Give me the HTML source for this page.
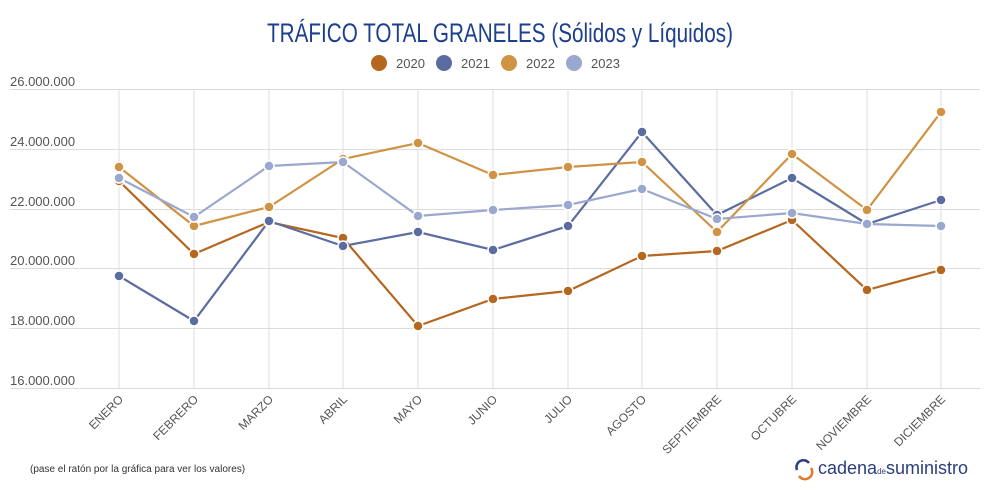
<!DOCTYPE html>
<html><head><meta charset="utf-8"><style>
html,body{margin:0;padding:0;background:#fff;width:1000px;height:500px;overflow:hidden}
text{font-family:"Liberation Sans",sans-serif}
</style></head><body>
<svg width="1000" height="500" viewBox="0 0 1000 500" xmlns="http://www.w3.org/2000/svg">
<text x="500" y="42" text-anchor="middle" font-size="27" font-weight="500" fill="#1d3f8f" style="font-family:'Liberation Sans Narrow','Liberation Sans',sans-serif" textLength="466" lengthAdjust="spacingAndGlyphs">TRÁFICO TOTAL GRANELES (Sólidos y Líquidos)</text>
<g font-size="13" fill="#555">
<circle cx="379" cy="63" r="8" fill="#b5661f"/><text x="396" y="68">2020</text>
<circle cx="444" cy="63" r="8" fill="#5b6ca0"/><text x="461" y="68">2021</text>
<circle cx="509" cy="63" r="8" fill="#d09243"/><text x="526" y="68">2022</text>
<circle cx="574" cy="63" r="8" fill="#9aa8cf"/><text x="591" y="68">2023</text>
</g>
<g stroke="#dcdcdc" stroke-width="1">
<line x1="10" x2="980" y1="89.5" y2="89.5"/><line x1="10" x2="980" y1="149.5" y2="149.5"/>
<line x1="10" x2="980" y1="209.5" y2="209.5"/><line x1="10" x2="980" y1="268.5" y2="268.5"/>
<line x1="10" x2="980" y1="328.5" y2="328.5"/><line x1="10" x2="980" y1="388.5" y2="388.5"/>
<line x1="119" x2="119" y1="89" y2="389"/><line x1="194" x2="194" y1="89" y2="389"/>
<line x1="269" x2="269" y1="89" y2="389"/><line x1="343" x2="343" y1="89" y2="389"/>
<line x1="418" x2="418" y1="89" y2="389"/><line x1="493" x2="493" y1="89" y2="389"/>
<line x1="568" x2="568" y1="89" y2="389"/><line x1="642" x2="642" y1="89" y2="389"/>
<line x1="717" x2="717" y1="89" y2="389"/><line x1="792" x2="792" y1="89" y2="389"/>
<line x1="867" x2="867" y1="89" y2="389"/><line x1="941" x2="941" y1="89" y2="389"/>
</g>
<g font-size="13" fill="#555">
<text x="10" y="86">26.000.000</text><text x="10" y="146">24.000.000</text>
<text x="10" y="206">22.000.000</text><text x="10" y="265">20.000.000</text>
<text x="10" y="325">18.000.000</text><text x="10" y="385">16.000.000</text>
</g>
<g font-size="12" fill="#555" text-anchor="end">
<text transform="translate(124,400) rotate(-45)">ENERO</text>
<text transform="translate(199,400) rotate(-45)">FEBRERO</text>
<text transform="translate(274,400) rotate(-45)">MARZO</text>
<text transform="translate(348,400) rotate(-45)">ABRIL</text>
<text transform="translate(423,400) rotate(-45)">MAYO</text>
<text transform="translate(498,400) rotate(-45)">JUNIO</text>
<text transform="translate(573,400) rotate(-45)">JULIO</text>
<text transform="translate(647,400) rotate(-45)">AGOSTO</text>
<text transform="translate(722,400) rotate(-45)">SEPTIEMBRE</text>
<text transform="translate(797,400) rotate(-45)">OCTUBRE</text>
<text transform="translate(872,400) rotate(-45)">NOVIEMBRE</text>
<text transform="translate(946,400) rotate(-45)">DICIEMBRE</text>
</g>
<g fill="none" stroke-width="2.2">
<polyline stroke="#b5661f" points="119,181 194,254 269,222 343,238 418,326 493,299 568,291 642,256 717,251 792,220 867,290 941,270"/>
<polyline stroke="#5b6ca0" points="119,276 194,321 269,221 343,246 418,232 493,250 568,226 642,132 717,215 792,178 867,224 941,200"/>
<polyline stroke="#d09243" points="119,167 194,226 269,207 343,159 418,143 493,175 568,167 642,162 717,232 792,154 867,210 941,112"/>
<polyline stroke="#9aa8cf" points="119,178 194,217 269,166 343,162 418,216 493,210 568,205 642,189 717,219 792,213 867,224 941,226"/>
</g>
<g stroke="#fff" stroke-width="1.5">
<g fill="#b5661f"><circle cx="119" cy="181" r="5"/><circle cx="194" cy="254" r="5"/><circle cx="269" cy="222" r="5"/><circle cx="343" cy="238" r="5"/><circle cx="418" cy="326" r="5"/><circle cx="493" cy="299" r="5"/><circle cx="568" cy="291" r="5"/><circle cx="642" cy="256" r="5"/><circle cx="717" cy="251" r="5"/><circle cx="792" cy="220" r="5"/><circle cx="867" cy="290" r="5"/><circle cx="941" cy="270" r="5"/></g>
<g fill="#5b6ca0"><circle cx="119" cy="276" r="5"/><circle cx="194" cy="321" r="5"/><circle cx="269" cy="221" r="5"/><circle cx="343" cy="246" r="5"/><circle cx="418" cy="232" r="5"/><circle cx="493" cy="250" r="5"/><circle cx="568" cy="226" r="5"/><circle cx="642" cy="132" r="5"/><circle cx="717" cy="215" r="5"/><circle cx="792" cy="178" r="5"/><circle cx="867" cy="224" r="5"/><circle cx="941" cy="200" r="5"/></g>
<g fill="#d09243"><circle cx="119" cy="167" r="5"/><circle cx="194" cy="226" r="5"/><circle cx="269" cy="207" r="5"/><circle cx="343" cy="159" r="5"/><circle cx="418" cy="143" r="5"/><circle cx="493" cy="175" r="5"/><circle cx="568" cy="167" r="5"/><circle cx="642" cy="162" r="5"/><circle cx="717" cy="232" r="5"/><circle cx="792" cy="154" r="5"/><circle cx="867" cy="210" r="5"/><circle cx="941" cy="112" r="5"/></g>
<g fill="#9aa8cf"><circle cx="119" cy="178" r="5"/><circle cx="194" cy="217" r="5"/><circle cx="269" cy="166" r="5"/><circle cx="343" cy="162" r="5"/><circle cx="418" cy="216" r="5"/><circle cx="493" cy="210" r="5"/><circle cx="568" cy="205" r="5"/><circle cx="642" cy="189" r="5"/><circle cx="717" cy="219" r="5"/><circle cx="792" cy="213" r="5"/><circle cx="867" cy="224" r="5"/><circle cx="941" cy="226" r="5"/></g>
</g>
<text x="30" y="472" font-size="10" fill="#333">(pase el ratón por la gráfica para ver los valores)</text>
<g fill="none" stroke-width="2.5">
<path d="M797,470 A7,7 0 0 1 809,463" stroke="#2b3e7e"/>
<path d="M811,468 A7,7 0 0 1 799,476" stroke="#e0782a"/>
</g>
<text x="818" y="474" font-size="18" fill="#2b3e7e" textLength="150" lengthAdjust="spacingAndGlyphs">cadena<tspan font-size="8">de</tspan>suministro</text>
</svg>
</body></html>
